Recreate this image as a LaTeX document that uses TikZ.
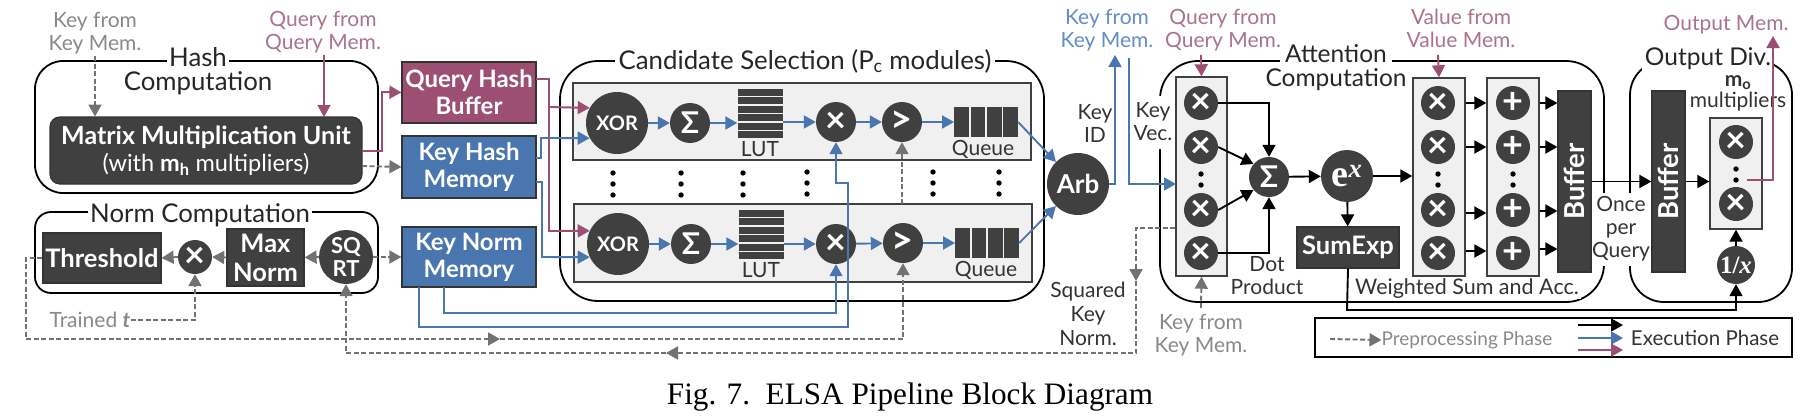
\documentclass[tikz,border=0pt]{standalone}
\usepackage{fontspec}
\setmainfont{Lato}
\newfontfamily\capfont{Liberation Serif}
\usetikzlibrary{arrows.meta}
\usetikzlibrary{positioning}
\definecolor{mdark}{RGB}{64,64,64}
\definecolor{mblue}{RGB}{74,118,175}
\definecolor{mpurple}{RGB}{156,79,115}
\definecolor{mgray}{RGB}{118,113,113}
\definecolor{mpanel}{RGB}{240,240,240}
\definecolor{lgray}{RGB}{140,136,136}
\definecolor{lpurple}{RGB}{170,115,142}
\definecolor{lblue}{RGB}{100,140,200}

\begin{document}
\begin{tikzpicture}[x=1pt, y=-1pt,
    lbl/.style={font=\fontsize{21}{23}\selectfont, align=center, inner sep=0pt, text=black!80},
    title/.style={font=\fontsize{25.8}{26}\selectfont, align=center, inner sep=2pt, fill=white, text=black!85},
    group/.style={draw, line width=1.8pt, rounded corners=28pt, inner sep=0pt},
    panel/.style={draw=black!75, line width=1.4pt, fill=mpanel, inner sep=0pt},
    module/.style={draw=black!80, line width=1.2pt, inner sep=0pt, align=center, text=white, font=\fontsize{24}{27}\selectfont\bfseries},
    darkmodule/.style={module, fill=mdark},
    bluemodule/.style={module, fill=mblue},
    purplemodule/.style={module, fill=mpurple},
    opnode/.style={circle, fill=mdark, text=white, inner sep=0pt, font=\fontsize{21}{23}\selectfont\bfseries, align=center},
    op/.style={opnode, minimum size=40pt},
    opmul/.style={opnode, minimum size=34pt, font=\fontsize{36}{36}\selectfont\bfseries},
    lutrow/.style={fill=mdark, minimum width=45pt, minimum height=7pt, inner sep=0pt},
    qcell/.style={fill=mdark, minimum width=14.5pt, minimum height=30pt, inner sep=0pt},
    arrow/.style={-{Stealth[length=12pt,width=13pt,inset=0pt]}, line width=1.9pt},
    bluearrow/.style={arrow, mblue},
    purplearrow/.style={arrow, mpurple},
    dasharrow/.style={arrow, mgray, dash pattern=on 5pt off 2.5pt},
    dotcol/.pic={\fill (0,-11) circle (2.7); \fill (0,0) circle (2.7); \fill (0,11) circle (2.7);},
    dotpair/.pic={\fill (0,-5.5) circle (2.7); \fill (0,5.5) circle (2.7);},
]
\useasboundingbox (0,0) rectangle (1801,415);

% group outlines, their titles cut the line
\node[group, minimum width=343pt, minimum height=132pt] (hashbox) at (206.5,127) {};
\node[title] (hashtitle) at (198,57) {Hash};
\node[title, fill=none] (hashsub) at (198,83) {Computation};
\node[group, rounded corners=16pt, minimum width=343pt, minimum height=81pt] (normbox) at (206.5,252.5) {};
\node[title] (normtitle) at (200,215) {Norm Computation};
\node[group, rounded corners=38pt, minimum width=484pt, minimum height=240pt] (candbox) at (802,181) {};
\node[title, inner sep=4pt] (candtitle) at (805,61) {Candidate Selection (P\textsubscript{c} modules)};
\node[group, rounded corners=38pt, minimum width=444pt, minimum height=241pt] (attbox) at (1382,181.5) {};
\node[title, inner sep=0pt, minimum width=112pt, minimum height=20pt, font=\fontsize{24.5}{26}\selectfont] (atttitle) at (1336,54) {Attention};
\node[title, fill=none, font=\fontsize{24.5}{26}\selectfont] (attsub) at (1336,80) {Computation};
\node[group, rounded corners=34pt, minimum width=162pt, minimum height=241pt] (divbox) at (1711,181.5) {};
\node[title, inner sep=3pt, font=\fontsize{24.5}{26}\selectfont] (divtitle) at (1708,59) {Output Div.};

% side labels that also cut the group lines
\node[lbl, fill=white, minimum width=46pt, minimum height=53pt] (keyvec) at (1153,122) {Key\\Vec.};
\node[lbl, fill=white, minimum width=62pt, minimum height=73pt] (oncequery) at (1621,229) {Once\\per\\Query};

% hash and norm computation
\node[darkmodule, rounded corners=10pt, minimum width=312pt, minimum height=67pt, font=\fontsize{25}{27}\selectfont] (matmul) at (206,150.5) {{\bfseries Matrix Multiplication Unit}\\{\mdseries\fontsize{23.5}{27}\selectfont (with \textbf{m\textsubscript{h}} multipliers)}};
\node[darkmodule, minimum width=118pt, minimum height=50pt, font=\fontsize{25.5}{27}\selectfont\bfseries] (thresh) at (102,258) {Threshold};
\node[opmul] (normmul) at (195,257) {×};
\node[darkmodule, minimum width=77pt, minimum height=57pt, font=\fontsize{25.5}{29}\selectfont\bfseries] (maxnorm) at (265.5,257.5) {Max\\Norm};
\node[opnode, minimum size=54pt, font=\fontsize{22}{23}\selectfont\bfseries] (sqrtop) at (346,257) {SQ\\RT};

% memories
\node[purplemodule, minimum width=134pt, minimum height=61pt] (qhash) at (469,92.5) {Query Hash\\Buffer};
\node[bluemodule, minimum width=134pt, minimum height=62pt] (khash) at (469,167) {Key Hash\\Memory};
\node[bluemodule, minimum width=134pt, minimum height=60pt] (knorm) at (469,257) {Key Norm\\Memory};

% candidate rows
\node[panel, minimum width=458pt, minimum height=77pt] (rowa) at (802,121.5) {};
\node[panel, minimum width=458pt, minimum height=78pt] (rowb) at (803,243) {};

\node[opnode, minimum size=62pt, font=\fontsize{20}{23}\selectfont\bfseries] (xa) at (617,123) {XOR};
\node[op, font=\fontsize{30}{30}\selectfont\bfseries] (sa) at (690,123) {Σ};
\node[lutrow] (luta) at (760,92.5) {};
\node[lutrow, below=1pt of luta] (lutb) {};
\node[lutrow, below=1pt of lutb] (lutc) {};
\node[lutrow, below=1pt of lutc] (lutd) {};
\node[lutrow, below=1pt of lutd] (lute) {};
\node[lutrow, below=1pt of lute] (lutf) {};
\node[lbl] (lutlabela) at (760,149) {LUT};
\node[op, font=\fontsize{36}{36}\selectfont\bfseries] (ma) at (836,122) {×};
\node[op, font=\fontsize{38}{38}\selectfont\bfseries] (ga) at (902,122) {>};
\node[qcell] (qa) at (961.5,122) {};
\node[qcell, right=1.5pt of qa] (qb) {};
\node[qcell, right=1.5pt of qb] (qc) {};
\node[qcell, right=1.5pt of qc] (qd) {};
\node[lbl] (queuelabela) at (983,149) {Queue};

\node[opnode, minimum size=62pt, font=\fontsize{20}{23}\selectfont\bfseries] (xb) at (618,244) {XOR};
\node[op, font=\fontsize{30}{30}\selectfont\bfseries] (sb) at (691,244) {Σ};
\node[lutrow] (lutg) at (761,213.5) {};
\node[lutrow, below=1pt of lutg] (luth) {};
\node[lutrow, below=1pt of luth] (luti) {};
\node[lutrow, below=1pt of luti] (lutj) {};
\node[lutrow, below=1pt of lutj] (lutk) {};
\node[lutrow, below=1pt of lutk] (lutl) {};
\node[lbl] (lutlabelb) at (761,270) {LUT};
\node[op, font=\fontsize{36}{36}\selectfont\bfseries] (mb) at (836,244) {×};
\node[op, font=\fontsize{38}{38}\selectfont\bfseries] (gb) at (903,243) {>};
\node[qcell] (qe) at (962.5,243) {};
\node[qcell, right=1.5pt of qe] (qf) {};
\node[qcell, right=1.5pt of qf] (qg) {};
\node[qcell, right=1.5pt of qg] (qh) {};
\node[lbl] (queuelabelb) at (986,270) {Queue};

\pic at (613,184) {dotcol};
\pic at (681,184) {dotcol};
\pic at (743,184) {dotcol};
\pic at (807,183) {dotcol};
\pic at (933,183) {dotcol};
\pic at (999,183) {dotcol};

\node[opnode, minimum size=62pt, font=\fontsize{26}{26}\selectfont\bfseries] (arb) at (1078,184) {Arb};

% attention computation
\node[panel, minimum width=51pt, minimum height=199pt] (dotcolumn) at (1201.5,176.5) {};
\node[opmul] (da) at (1201,103) {×};
\node[opmul] (db) at (1201,147) {×};
\node[opmul] (dc) at (1201,210) {×};
\node[opmul] (dd) at (1201,253) {×};
\pic at (1201,179.5) {dotpair};
\node[op, font=\fontsize{30}{30}\selectfont\bfseries] (dsum) at (1269,177) {Σ};
\node[opnode, minimum size=52pt, font=\capfont\fontsize{38}{38}\selectfont\bfseries] (expop) at (1347,176) {e\textsuperscript{\itshape x}};
\node[darkmodule, minimum width=102pt, minimum height=41pt, font=\fontsize{25.5}{27}\selectfont\bfseries] (sumexp) at (1348,247.5) {SumExp};

\node[panel, minimum width=52pt, minimum height=198pt] (wcol) at (1439,177) {};
\node[opmul] (wa) at (1438,103) {×};
\node[opmul] (wb) at (1438,147) {×};
\node[opmul] (wc) at (1438,210) {×};
\node[opmul] (wd) at (1438,253) {×};
\pic at (1438,179.5) {dotpair};
\node[panel, minimum width=52pt, minimum height=198pt] (acol) at (1513,177) {};
\node[opmul] (aa) at (1513,103) {+};
\node[opmul] (ab) at (1513,147) {+};
\node[opmul] (ac) at (1513,210) {+};
\node[opmul] (ad) at (1513,253) {+};
\pic at (1513,179.5) {dotpair};
\node[darkmodule, minimum width=33pt, minimum height=181pt] (bufa) at (1574.5,181.5) {};
\node[text=white, rotate=90, inner sep=0pt, font=\fontsize{27.5}{28}\selectfont\bfseries] (bufatext) at (bufa) {Buffer};

% output div
\node[darkmodule, minimum width=33pt, minimum height=181pt] (bufb) at (1668.5,181.5) {};
\node[text=white, rotate=90, inner sep=0pt, font=\fontsize{27.5}{28}\selectfont\bfseries] (bufbtext) at (bufb) {Buffer};
\node[panel, minimum width=52pt, minimum height=111pt] (divcol) at (1736,173.5) {};
\node[opmul] (ya) at (1736,142) {×};
\node[opmul] (yb) at (1736,204) {×};
\pic at (1736,174.5) {dotpair};
\node[opnode, minimum size=38pt, font=\capfont\fontsize{25}{25}\selectfont\bfseries] (inv) at (1736,265) {1/{\itshape x}};
\node[lbl, font=\fontsize{21}{21}\selectfont] (divmult) at (1738,93) {\textbf{m\textsubscript{o}}\\multipliers};

% plain labels
\node[lbl, text=lgray] (keya) at (95,33) {Key from\\Key Mem.};
\node[lbl, text=lpurple] (querya) at (323,32) {Query from\\Query Mem.};
\node[lbl, text=lgray] (trained) at (90,320) {Trained \textbf{\textit{t}}};
\node[lbl, text=lblue] (keyb) at (1107,30) {Key from\\Key Mem.};
\node[lbl] (keyid) at (1095,123) {Key\\ID};
\node[lbl, text=lpurple] (queryb) at (1223,30) {Query from\\Query Mem.};
\node[lbl] (dotprod) at (1267,276) {Dot\\Product};
\node[lbl, text=lpurple] (valuelabel) at (1461,28) {Value from\\Value Mem.};
\node[lbl, text=lpurple] (outlabel) at (1726,25) {Output Mem.};
\node[lbl, fill=white, inner xsep=2pt, font=\fontsize{21.5}{23}\selectfont] (wsum) at (1467,289) {Weighted Sum and Acc.};
\node[lbl, font=\fontsize{21}{24}\selectfont] (sqkey) at (1088,314) {Squared\\Key\\Norm.};
\node[lbl, text=lgray] (keyc) at (1201,335) {Key from\\Key Mem.};

% free ends of the connectors
\coordinate (keyastart) at (95,56);
\coordinate (keyaend) at (95,116.5);
\coordinate (queryastart) at (324,55);
\coordinate (queryaend) at (324,117);
\coordinate (matq) at (362,151);
\coordinate (matk) at (362,166);
\coordinate (qelbow) at (382,92);
\coordinate (prea) at (26,339);
\coordinate (preb) at (500,339);
\coordinate (prec) at (1174,228);
\coordinate (pred) at (1136,281);
\coordinate (pree) at (1136,353);
\coordinate (pref) at (666,353);
\coordinate (qtap) at (536,79);
\coordinate (qturn) at (549,231);
\coordinate (qbranch) at (549,107);
\coordinate (khtapa) at (536,158);
\coordinate (khturna) at (541,138);
\coordinate (khtapb) at (536,182);
\coordinate (khturnb) at (542,257);
\coordinate (tapa) at (444,287);
\coordinate (busa) at (444,313);
\coordinate (tapb) at (419,287);
\coordinate (busb) at (419,327);
\coordinate (riser) at (848,183);
\coordinate (rowbtop) at (902,204);
\coordinate (keyidend) at (1115,55);
\coordinate (keyvecstart) at (1129,58);
\coordinate (keyvecend) at (1176,184);
\coordinate (querybstart) at (1201,55);
\coordinate (keycstart) at (1201,308);
\coordinate (valuestart) at (1438,55);
\coordinate (sumbus) at (1347,310);
\coordinate (outstart) at (1747,180);
\coordinate (outend) at (1773,36);

% preprocessing phase
\draw[dasharrow] (keyastart) -- (keyaend);
\draw[dasharrow] (matk) -- (khash.west);
\draw[dasharrow] (sqrtop.east) -- (knorm.west);
\draw[dasharrow] (sqrtop.west) -- (maxnorm.east);
\draw[dasharrow] (maxnorm.west) -- (normmul.east);
\draw[dasharrow] (normmul.west) -- (thresh.east);
\draw[dasharrow] (trained.east) -| (normmul.south);
\draw[dasharrow] (thresh.west) -| (prea) -- (preb);
\draw[dasharrow] (preb) -| (gb.south);
\draw[dasharrow] (rowbtop) -- (ga.south);
\draw[dasharrow] (dotcolumn.west |- prec) -| (pred);
\draw[dasharrow] (pred) -- (pree) -- (pref);
\draw[dasharrow] (pref) -| (sqrtop.south);
\draw[dasharrow] (keycstart) -- (dotcolumn.south);

% execution phase, hash side
\draw[purplearrow] (queryastart) -- (queryaend);
\draw[purplearrow] (matq) -| (qelbow) -- (qhash.west);
\draw[purplearrow] (qtap) -| (qturn) -- (xb.155);
\draw[purplearrow] (qbranch) -- (xa.151);
\draw[bluearrow] (khtapa) -| (khturna) -- (xa.209);
\draw[bluearrow] (khtapb) -| (khturnb) -- (xb.205);
\draw[bluearrow] (tapa) -- (busa) -| (mb.south);
\draw[bluearrow] (tapb) -- (busb) -| (riser) -- (riser -| ma) -- (ma.south);

% execution phase, rows
\draw[bluearrow] (xa) -- (sa);
\draw[bluearrow] (sa) -- (sa -| lutc.west);
\draw[bluearrow] (ma -| lutc.east) -- (ma);
\draw[bluearrow] (ma) -- (ga);
\draw[bluearrow] (ga) -- (qa);
\draw[bluearrow] (qd.east) -- (arb.135);
\draw[bluearrow] (xb) -- (sb);
\draw[bluearrow] (sb) -- (sb -| lutj.west);
\draw[bluearrow] (mb -| lutj.east) -- (mb);
\draw[bluearrow] (mb) -- (gb);
\draw[bluearrow] (gb) -- (qe);
\draw[bluearrow] (qh.east) -- (arb.225);
\draw[bluearrow] (arb.east) -| (keyidend);
\draw[bluearrow] (keyvecstart) |- (keyvecend);

% execution phase, attention side
\draw[purplearrow] (querybstart) -- (dotcolumn.north);
\draw[purplearrow] (valuestart) -- (wcol.north);
\draw[arrow] (da.east) -| (dsum.north);
\draw[arrow] (db.east) -- (dsum.140);
\draw[arrow] (dc.east) -- (dsum.220);
\draw[arrow] (dd.east) -| (dsum.south);
\draw[arrow] (dsum) -- (expop);
\draw[arrow] (expop) -- (sumexp);
\draw[arrow] (expop) -- (expop -| wcol.west);
\draw[arrow] (wa -| wcol.east) -- (wa -| acol.west);
\draw[arrow] (wb -| wcol.east) -- (wb -| acol.west);
\draw[arrow] ([yshift=-3pt]wc.center -| wcol.east) -- ([yshift=-3pt]wc.center -| acol.west);
\draw[arrow] ([yshift=2pt]wd.center -| wcol.east) -- ([yshift=2pt]wd.center -| acol.west);
\draw[arrow] (aa -| acol.east) -- (aa -| bufa.west);
\draw[arrow] (ab -| acol.east) -- (ab -| bufa.west);
\draw[arrow] ([yshift=-1pt]ac.center -| acol.east) -- ([yshift=-1pt]ac.center -| bufa.west);
\draw[arrow] ([yshift=4pt]ad.center -| acol.east) -- ([yshift=4pt]ad.center -| bufa.west);
\draw[arrow] (bufa) -- (bufb);
\draw[arrow] (bufb) -- (bufb -| divcol.west);
\draw[arrow] (inv) -- (divcol);
\draw[arrow] (sumexp.south) -- (sumbus) -| (inv.south);
\draw[purplearrow] (outstart) -| (outend);

% legend
\node[draw, line width=1.4pt, minimum width=477pt, minimum height=39pt] (legend) at (1553.5,337.5) {};
\node[lbl, text=lgray, font=\fontsize{19}{21}\selectfont] (prelegend) at (1467,340) {Preprocessing Phase};
\node[lbl, font=\fontsize{20.5}{21}\selectfont] (execlegend) at (1705,338) {Execution Phase};
\coordinate (legdash) at (1330,339);
\coordinate (legblack) at (1578,325);
\coordinate (legblue) at (1578,338);
\coordinate (legpurple) at (1578,350);
\draw[dasharrow] (legdash) -- (prelegend.west);
\draw[arrow] (legblack) -- ++(45,0);
\draw[bluearrow] (legblue) -- ++(45,0);
\draw[purplearrow] (legpurple) -- ++(45,0);

% caption
\node[inner sep=0pt, font=\capfont\fontsize{31.2}{32}\selectfont] (caption) at (910,397) {Fig. 7.\ \ ELSA Pipeline Block Diagram};
\end{tikzpicture}
\end{document}
